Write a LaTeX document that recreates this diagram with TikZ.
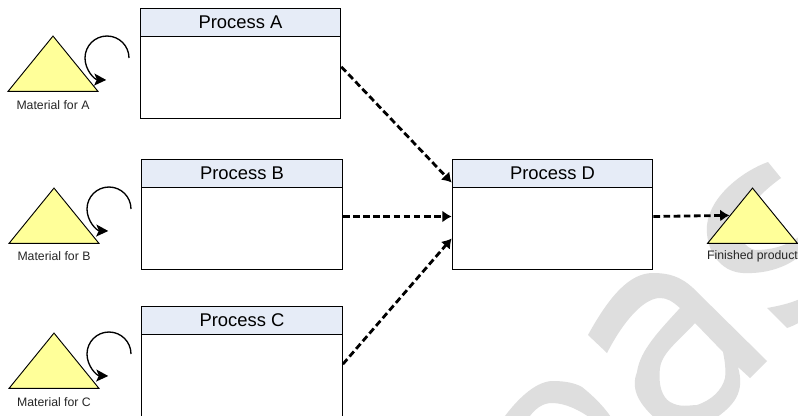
\documentclass[tikz,border=0pt]{standalone}
\usepackage{fontspec}
\setmainfont{Liberation Sans}
\usetikzlibrary{arrows.meta}
\usetikzlibrary{shapes.geometric}
\definecolor{head1}{RGB}{230, 236, 247}
\definecolor{yellow1}{RGB}{255, 255, 153}
\definecolor{gray1}{RGB}{222, 222, 222}
\tikzset{
  body/.style={rectangle,draw=black,fill=white,line width=.8pt,minimum width=150.5pt,minimum height=82.5pt,inner sep=0pt},
  head/.style={rectangle,draw=black,fill=head1,line width=.8pt,minimum width=150.5pt,minimum height=21.5pt,inner sep=0pt,font=\fontsize{13.8}{16}\selectfont},
  pile/.style={isosceles triangle,isosceles triangle stretches,shape border rotate=90,draw=black,fill=yellow1,line width=.7pt,minimum width=67.5pt,minimum height=41.5pt,inner sep=0pt},
  cap1/.style={inner sep=0pt,font=\fontsize{9.2}{11}\selectfont,text=black!85},
  flow/.style={->,>={Latex[length=7pt,width=9pt]},line width=2.1pt,dash pattern=on 5pt off 2.6pt},
  turn/.style={->,>={Stealth[length=9pt,width=9pt,inset=2pt]},line width=1pt}
}
\begin{document}
\begin{tikzpicture}[x=.75pt,y=-.75pt]
  \useasboundingbox (0,0) rectangle (798,415);
  \fill[white] (0,0) rectangle (798,415);
  % watermark
  \fill[gray1,even odd rule] (588,335) .. controls (610,295) and (630,273) .. (653,273) .. controls (668,273) and (680,276) .. (693,288) -- (767,361) -- (750,378) -- (738,367) .. controls (745,392) and (735,405) .. (713,420) -- (657,420) .. controls (640,405) and (630,390) .. (637,372) .. controls (640,350) and (660,330) .. (680,308) .. controls (672,301) and (667,298) .. (660,298) .. controls (645,298) and (625,318) .. (607,353) -- cycle
    (695,323) .. controls (680,340) and (662,352) .. (660,368) .. controls (658,385) and (662,397) .. (670,402) .. controls (680,408) and (690,405) .. (697,405) .. controls (712,400) and (722,390) .. (725,378) .. controls (726,370) and (725,362) .. (723,352) -- cycle;
  \fill[gray1] (502,420) .. controls (520,395) and (538,381) .. (553,381) .. controls (565,381) and (575,383) .. (582,387) .. controls (592,395) and (603,405) .. (613,420) -- (593,420) .. controls (580,410) and (565,403) .. (552,403) .. controls (543,403) and (535,408) .. (527,420) -- cycle;
  \fill[gray1] (767,308) .. controls (778,306) and (788,304) .. (800,299) -- (800,322) .. controls (795,325) and (790,327) .. (787,328) -- cycle;
  \fill[gray1] (768,162) .. controls (745,170) and (710,195) .. (707,225) .. controls (705,250) and (720,272) .. (743,273) .. controls (765,274) and (785,268) .. (800,256) -- (800,236) .. controls (785,247) and (770,250) .. (755,250) .. controls (735,245) and (730,215) .. (781,178) -- cycle;
  % processes
  \node[body] (pa) at (240.5,63.5) {};
  \node[head] (ha) at (240.5,22.5) {Process A};
  \node[body] (pb) at (242,214.5) {};
  \node[head] (hb) at (242,173.5) {Process B};
  \node[body] (pc) at (242,361.5) {};
  \node[head] (hc) at (242,320.5) {Process C};
  \node[body] (pd) at (552.5,214.5) {};
  \node[head] (hd) at (552.5,173.5) {Process D};
  % materials
  \node[pile] (ma) at (53,70) {};
  \node[pile] (mb) at (54,222) {};
  \node[pile] (mc) at (54,367) {};
  \node[pile] (fp) at (752.5,222) {};
  \node[cap1] (la) at (53,105) {Material for A};
  \node[cap1] (lb) at (54,256) {Material for B};
  \node[cap1] (lc) at (54,402) {Material for C};
  \node[cap1] (lf) at (752.5,256) {Finished product};
  % loops
  \foreach \name/\x/\y in {ta/129/58, tb/131/209, tc/131/354}
    \coordinate (\name) at (\x,\y);
  \foreach \name in {ta,tb,tc}
    \draw[turn] (\name) arc[start angle=0,end angle=268,radius=16.5pt];
  % flows
  \draw[flow] ([yshift=-2.5pt]pa.east) -- ([yshift=24pt]pd.west);
  \draw[flow] ([yshift=-1.5pt]pb.east) -- ([yshift=-1.5pt]pd.west);
  \draw[flow] ([yshift=-2pt]pc.east) -- ([yshift=-18pt]pd.west);
  \draw[flow] ([yshift=-1.5pt]pd.east) -- (fp.left side);
\end{tikzpicture}
\end{document}
